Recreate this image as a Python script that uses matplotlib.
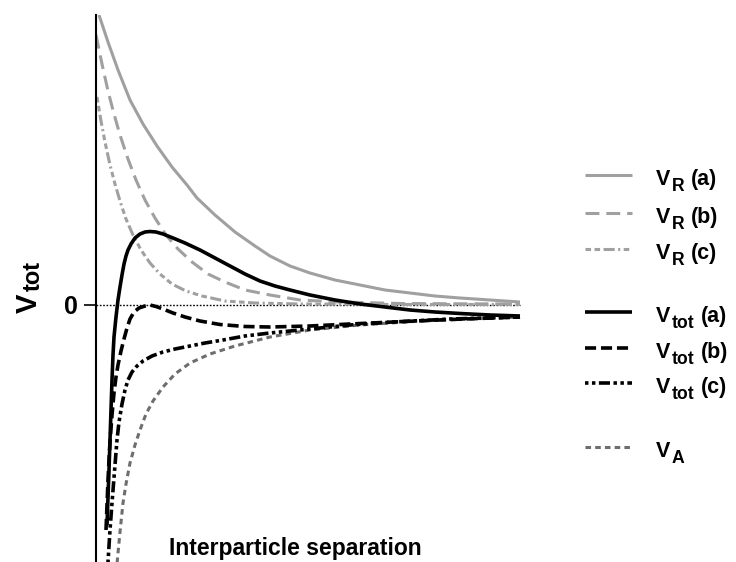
import matplotlib
matplotlib.use("Agg")
import matplotlib.pyplot as plt
from matplotlib.lines import Line2D

plt.rcParams['font.family'] = ['Liberation Sans', 'DejaVu Sans']
plt.rcParams['lines.scale_dashes'] = False

# Repulsive potentials (separation, energy; arbitrary units)
vr_a_x = [0.3, 1.2, 2.2, 3.4, 4.7, 6.1, 7.6, 9.1, 10.1, 11.9, 13.9, 15.9, 17.4, 19.4,
          21.4, 23.9, 26.4, 28.9, 31.4, 33.9, 36.4, 39.4, 42.4]
vr_a_y = [2.90, 2.63, 2.35, 2.05, 1.81, 1.59, 1.38, 1.20, 1.07, 0.90, 0.73, 0.59, 0.49, 0.39,
          0.32, 0.25, 0.20, 0.15, 0.12, 0.09, 0.07, 0.05, 0.03]

vr_b_x = [0.0, 0.6, 1.2, 1.8, 2.4, 3.2, 4.0, 4.9, 5.9, 7.0, 8.2, 9.6, 11.2, 12.9, 14.9,
          17.4, 20.4, 24.4, 30.4, 36.4, 42.4]
vr_b_y = [2.70, 2.41, 2.14, 1.91, 1.70, 1.46, 1.25, 1.05, 0.87, 0.70, 0.56, 0.43, 0.31, 0.23,
          0.15, 0.10, 0.05, 0.03, 0.015, 0.012, 0.01]

vr_c_x = [0.1, 0.5, 0.9, 1.4, 1.9, 2.4, 3.0, 3.7, 4.5, 5.4, 6.4, 7.6, 9.0, 10.6, 12.9,
          15.9, 20.4, 30.4, 42.4]
vr_c_y = [2.08, 1.84, 1.63, 1.40, 1.21, 1.04, 0.86, 0.70, 0.55, 0.42, 0.31, 0.21, 0.14, 0.09,
          0.04, 0.02, 0.01, 0.005, 0.005]

# Total interaction potentials
vt_a_x = [1.1, 1.2, 1.3, 1.4, 1.5, 1.6, 1.7, 1.8, 2.0, 2.2, 2.4, 2.6, 2.8, 3.0, 3.2, 3.5,
          3.9, 4.4, 4.9, 5.4, 6.0, 6.7, 7.7, 8.9, 10.4, 11.9, 13.4, 14.9, 16.4, 17.9, 19.4,
          21.4, 23.9, 26.4, 28.9, 31.4, 33.9, 36.4, 39.4, 42.4]
vt_a_y = [-2.20, -1.92, -1.65, -1.35, -1.05, -0.75, -0.50, -0.32, -0.12, 0.05, 0.18, 0.30,
          0.41, 0.49, 0.55, 0.61, 0.67, 0.71, 0.73, 0.735, 0.73, 0.71, 0.67, 0.62, 0.55, 0.47,
          0.39, 0.31, 0.24, 0.19, 0.15, 0.10, 0.05, 0.01, -0.02, -0.05, -0.07, -0.085, -0.10,
          -0.11]

vt_b_x = [1.0, 1.1, 1.2, 1.3, 1.4, 1.6, 1.8, 2.0, 2.2, 2.5, 2.8, 3.1, 3.4, 3.8, 4.3, 4.9,
          5.4, 6.0, 6.7, 7.7, 8.9, 10.4, 12.4, 14.9, 17.4, 21.4, 25.4, 29.7, 35.4, 42.4]
vt_b_y = [-2.25, -2.00, -1.75, -1.55, -1.37, -1.10, -0.88, -0.72, -0.60, -0.46, -0.34, -0.23,
          -0.14, -0.07, -0.03, -0.01, 0.0, -0.015, -0.04, -0.08, -0.12, -0.16, -0.195, -0.215,
          -0.22, -0.21, -0.19, -0.17, -0.145, -0.12]

vt_c_x = [1.15, 1.2, 1.4, 1.6, 1.9, 2.1, 2.3, 2.6, 2.9, 3.2, 3.6, 4.1, 4.7, 5.6, 6.7, 7.9,
          9.4, 10.9, 12.7, 14.9, 17.4, 21.4, 25.4, 29.7, 35.4, 42.4]
vt_c_y = [-2.70, -2.57, -2.25, -1.98, -1.60, -1.35, -1.17, -0.99, -0.85, -0.75, -0.67, -0.61,
          -0.56, -0.51, -0.47, -0.44, -0.41, -0.38, -0.35, -0.31, -0.28, -0.24, -0.20, -0.17,
          -0.14, -0.12]

# Attractive potential
va_x = [2.05, 2.2, 2.4, 2.7, 3.0, 3.4, 3.9, 4.4, 5.0, 5.7, 6.7, 7.9, 9.4, 11.4, 13.9, 17.4,
        21.4, 26.4, 32.4, 42.4]
va_y = [-2.65, -2.48, -2.27, -1.98, -1.79, -1.58, -1.40, -1.25, -1.09, -0.96, -0.82, -0.69,
        -0.58, -0.49, -0.41, -0.32, -0.25, -0.20, -0.16, -0.12]

# Legend entries: symbol, subscript, suffix
label_main = ['V', 'V', 'V', 'V', 'V', 'V', 'V']
label_sub = ['R', 'R', 'R', 'tot', 'tot', 'tot', 'A']
label_tail = ['(a)', '(b)', '(c)', '(a)', '(b)', '(c)', '']

light = '#a0a0a0'
mid = '#6e6e6e'
styles = [
    dict(color=light, lw=2.2, ls='-'),
    dict(color=light, lw=2.2, ls=(0, (10, 5))),
    dict(color=light, lw=2.2, ls=(0, (4, 2.5, 4, 2.5, 8, 2.5, 1.5, 2.5))),
    dict(color='black', lw=2.6, ls='-'),
    dict(color='black', lw=2.6, ls=(0, (8, 3.5))),
    dict(color='black', lw=2.6, ls=(0, (2.5, 2.5, 2.5, 2.5, 8, 2.5))),
    dict(color=mid, lw=2.2, ls=(0, (4, 3))),
]
series = [(vr_a_x, vr_a_y), (vr_b_x, vr_b_y), (vr_c_x, vr_c_y),
          (vt_a_x, vt_a_y), (vt_b_x, vt_b_y), (vt_c_x, vt_c_y), (va_x, va_y)]

W, H = 736, 562
fig = plt.figure(figsize=(W / 100, H / 100), dpi=100)
renderer = fig.canvas.get_renderer()

ax = fig.add_axes([96 / W, 0, 430 / W, 547 / H])
ax.set_xlim(0, 43)
ax.set_ylim(-2.57, 2.90)
for side in ['top', 'right', 'bottom']:
    ax.spines[side].set_visible(False)
ax.spines['left'].set_linewidth(1.5)
ax.set_xticks([])
ax.set_yticks([0])
ax.set_yticklabels(['0'], fontsize=18, fontweight='bold')
ax.tick_params(axis='y', length=9, width=1.2, pad=4)

# Zero reference line
ax.axhline(0, xmin=0, xmax=42.4 / 43, color='black', lw=1.0, ls=(0, (1.2, 1.2)))

order = [0, 1, 2, 6, 5, 4, 3]
for i in order:
    x, y = series[i]
    ax.plot(x, y, solid_capstyle='butt', dash_capstyle='butt',
            solid_joinstyle='round', **styles[i])

ax.text(19.9, -2.57 + (562 - 555) / 100, 'Interparticle separation', fontsize=16.5,
        fontweight='bold', ha='center', va='baseline')


def fx(px):
    return px / W


def fy(py):
    return 1 - py / H


# Vertical axis title: V with a large "tot" subscript
v = fig.text(fx(37), fy(313), 'V', fontsize=21, fontweight='bold', rotation=90,
             rotation_mode='anchor', ha='left', va='baseline')
bb = v.get_window_extent(renderer)
fig.text(fx(40), (bb.y1 + 3) / H, 'tot', fontsize=17, fontweight='bold', rotation=90,
         rotation_mode='anchor', ha='left', va='baseline')


def legend_label(x_px, base_px, main, sub, tail, size=15.5):
    t1 = fig.text(fx(x_px), fy(base_px), main, fontsize=size, fontweight='bold',
                  ha='left', va='baseline')
    b1 = t1.get_window_extent(renderer)
    t2 = fig.text((b1.x1 + 1.5) / W, fy(base_px + 6), sub, fontsize=size * 0.82,
                  fontweight='bold', ha='left', va='baseline')
    b2 = t2.get_window_extent(renderer)
    if tail:
        fig.text((b2.x1 + 6) / W, fy(base_px), tail, fontsize=size, fontweight='bold',
                 ha='left', va='baseline')


rows = [175, 213, 249, 312, 348, 383, 447]
for i, ry in enumerate(rows):
    fig.add_artist(Line2D([fx(585), fx(632)], [fy(ry), fy(ry)],
                          transform=fig.transFigure, solid_capstyle='butt',
                          dash_capstyle='butt', **styles[i]))
    legend_label(656, ry + 10, label_main[i], label_sub[i], label_tail[i])

fig.savefig('out.png', dpi=100)
